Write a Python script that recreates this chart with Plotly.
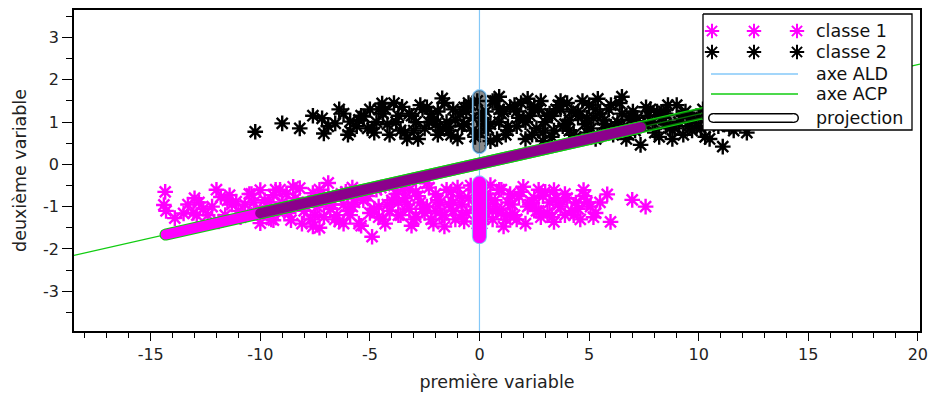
import numpy as np
import plotly.graph_objects as go

# ---------------- data ----------------
class1_x = [-14.34, -14.4, -14.3, -13.9, -13.5, -13.05, -13.0, -12.6, -12.2, -11.8, -11.4, -11.1, -11.6, -10.7,
            -10.0, -10.0, -9.7, -9.4, -9.4, -9.0, -8.6, -8.5, -8.2, -8.0, -7.6, -7.6, -7.5, -7.3, -7.0, -6.9,
            -6.6, -6.3, -6.0, -5.8, -5.5, -5.3, -5.0, -4.9, -4.7, -4.4, -4.2, -3.9, -3.6, -3.4, -3.1, -2.9,
            -2.6, -2.4, -2.2, -1.9, -1.6, -1.5, -1.2, -0.9, -0.7, -0.4, -0.2, 0.2, 0.5, 0.7, 1.0, 1.1, 1.4,
            1.7, 2.0, 2.2, 2.5, 2.8, 3.0, 3.4, 3.4, 3.7, 4.0, 4.3, 4.75, 4.9, 5.07, 5.3, 5.83, 5.98, 6.97,
            7.58, -9.2, -8.8, -7.8, -6.8, -6.2, -5.6, -4.6, -3.8, -3.2, -2.7, -2.0, -1.4, -1.0, 0.3, 0.8,
            1.5, 2.6, 3.2, 4.5, -10.3, -11.0, -12.8,
            -12.4, -12.0, -11.9, -11.3, -10.9, -10.5, -10.2, -9.8, -9.5, -9.1, -8.9, -8.4, -8.1, -7.9, -7.3,
            -7.1, -6.7, -6.4, -6.1, -5.9, -5.7, -5.4, -5.2, -4.8, -4.5, -4.3, -4.0, -3.7, -3.5, -3.3, -3.0,
            -2.8, -2.5, -2.3, -2.1, -1.8, -1.7, -1.3, -1.1, -0.8, -0.6, -0.3, 0.1, 0.4, 0.6, 0.9, 1.2, 1.3,
            1.6, 1.9, 2.1, 2.4, 2.7, 2.9, 3.3, 3.6, 3.9, 4.2, 4.6, 5.5, -13.3, -12.9,
            -11.5, -10.8, -10.4, -9.9, -9.6, -9.3, -8.7, -8.3, -7.7, -7.4, -6.9, -6.5, -6.2, -5.8, -5.1,
            -4.6, -4.1, -3.7, -3.2, -2.9, -2.4, -2.0, -1.6, -1.2, -0.8, -0.5, -0.1, 0.3, 0.6, 1.0, 1.4, 1.8,
            2.3, 2.7, 3.1, 3.5, 3.9, 4.4, 4.8, 5.2]
class1_y = [-0.65, -0.96, -1.1, -1.27, -1.16, -1.15, -0.8, -1.05, -1.0, -0.77, -0.73, -0.88, -1.2, -0.95,
            -0.61, -1.39, -1.0, -0.73, -1.32, -0.9, -1.32, -0.53, -0.56, -1.1, -0.68, -1.47, -1.2, -1.5, -0.9,
            -0.44, -1.3, -0.7, -1.1, -0.55, -1.4, -0.85, -1.15, -1.71, -0.6, -1.3, -0.95, -0.5, -1.2, -0.8,
            -1.45, -0.65, -1.05, -0.45, -1.3, -0.85, -1.47, -0.6, -1.1, -0.75, -1.35, -0.5, -1.0, -1.25,
            -0.49, -0.85, -1.15, -1.47, -0.7, -1.3, -0.53, -1.0, -0.8, -1.25, -0.65, -0.61, -1.36, -1.0,
            -0.8, -1.2, -0.61, -0.9, -1.0, -1.15, -0.71, -1.36, -0.84, -1.0, -1.1, -0.7, -0.9, -1.05, -0.95,
            -0.75, -1.0, -0.7, -1.05, -0.9, -1.1, -0.95, -0.55, -0.7, -1.05, -0.95, -1.1, -0.9, -1.05, -0.9,
            -1.1, -0.9,
            -1.2, -0.6, -1.35, -0.95, -1.25, -0.7, -1.15, -0.85, -1.3, -0.6, -1.1, -0.8, -1.4, -1.0, -0.6,
            -1.25, -0.95, -1.35, -0.65, -1.2, -0.9, -1.45, -0.7, -1.05, -0.55, -1.4, -0.85, -1.2, -0.6, -0.95,
            -1.3, -0.75, -1.15, -0.55, -1.4, -0.9, -1.2, -0.65, -1.3, -0.95, -1.15, -0.6, -1.4, -0.8, -1.1,
            -0.6, -1.3, -0.9, -1.2, -0.65, -1.4, -0.9, -1.1, -0.75, -1.25, -0.95, -0.7, -1.1, -1.3, -0.9,
            -0.95, -1.2,
            -0.85, -1.2, -0.7, -1.15, -0.9, -0.6, -1.15, -0.9, -1.3, -1.0, -0.75, -1.2, -1.4, -1.0, -0.75,
            -1.25, -1.1, -0.9, -0.6, -1.25, -1.0, -0.7, -1.2, -0.9, -1.2, -0.8, -1.4, -1.0, -1.3, -0.6, -1.2,
            -0.75, -0.95, -0.6, -1.15, -0.8, -1.2, -0.9, -0.75, -1.25]

class2_x = [-10.23, -9.0, -7.18, -7.1, -6.58, -5.9, -5.9, -5.28, -4.9, -4.44, -4.4, -4.1, -3.8, -3.53, -3.3,
            -3.1, -2.7, -2.5, -2.2, -1.9, -1.7, -1.5, -1.2, -1.0, -0.8, -0.5, -0.3, 0.0, 0.3, 0.5, 0.7, 0.9,
            1.2, 1.4, 1.7, 1.9, 2.1, 2.3, 2.6, 2.8, 3.0, 3.3, 3.5, 3.8, 4.0, 4.3, 4.5, 4.8, 5.0, 5.3, 5.5,
            5.8, 6.0, 6.3, 6.5, 6.8, 7.0, 7.35, 7.5, 7.8, 8.0, 8.3, 8.6, 8.8, 9.1, 9.4, 9.7, 10.0, 10.3,
            10.6, 11.1, 11.4, 11.8, 12.2, 12.5, -6.2, -5.6, -5.0, -4.7, -3.6, -2.9, -2.0, -1.4, -0.6, 0.2,
            1.0, 1.8, 2.5, 3.2, 4.1, 4.9, 5.7, 6.6, 7.2, 8.5, 9.5, -0.1, 2.2, 3.7, 5.4, 0.9,
            -6.9, -6.4, -6.0, -5.4, -5.1, -4.6, -4.2, -3.9, -3.4, -3.2, -2.8, -2.4, -2.1, -1.8, -1.6, -1.3,
            -0.9, -0.7, -0.4, -0.2, 0.1, 0.4, 0.6, 0.8, 1.1, 1.3, 1.6, 2.0, 2.4, 2.7, 2.9, 3.1, 3.4, 3.6,
            3.9, 4.2, 4.4, 4.7, 5.1, 5.2, 5.6, 5.9, 6.2, 6.4, 6.7, 6.9, 7.1, 7.6, 7.9, 8.2, 8.4, 8.7, 9.0,
            9.3, 9.6, 9.9, 10.2, 10.5, 10.8, 11.6, -8.2, -7.6,
            -5.5, -4.8, -4.3, -3.7, -3.0, -2.6, -2.3, -1.9, -1.5, -1.1, -0.7, -0.3, 0.1, 0.5, 0.9, 1.3, 1.7,
            2.1, 2.5, 2.9, 3.3, 3.7, 4.1, 4.5, 4.9, 5.3, 5.7, 6.1, 6.5, 6.9, 7.3, 7.7, 8.1, 8.5, 8.9, 9.3,
            9.7, 10.1, 10.5, 10.9]
class2_y = [0.77, 0.97, 1.09, 0.73, 0.97, 1.01, 0.78, 1.13, 0.85, 1.44, 1.2, 0.7, 1.0, 1.36, 0.61, 1.15,
            1.4, 0.85, 1.2, 0.7, 1.56, 1.0, 1.3, 0.61, 0.9, 1.45, 1.1, 0.75, 1.25, 0.55, 1.5, 1.0, 0.7,
            1.35, 0.9, 1.45, 0.6, 1.15, 0.85, 1.5, 1.0, 0.65, 1.3, 0.9, 1.45, 0.7, 1.15, 0.95, 1.4, 0.6,
            1.2, 0.85, 1.4, 1.0, 1.6, 0.7, 1.25, 0.46, 0.95, 1.3, 0.75, 1.1, 1.4, 0.6, 1.0, 1.25, 0.8, 1.1,
            0.65, 1.3, 0.42, 0.9, 1.15, 0.75, 1.0, 1.2, 0.9, 1.3, 1.0, 0.8, 1.0, 0.95, 0.8, 1.25, 0.95,
            1.2, 1.1, 1.3, 1.2, 1.05, 0.75, 1.05, 0.9, 1.1, 0.95, 0.9, 1.5, 1.55, 1.5, 1.55, 1.6,
            0.9, 1.3, 0.7, 1.15, 0.85, 1.3, 0.95, 1.45, 0.75, 1.2, 0.6, 1.35, 1.05, 0.8, 1.45, 0.7,
            1.2, 0.95, 1.4, 0.65, 1.1, 0.85, 1.5, 0.6, 1.25, 0.9, 1.4, 1.05, 0.7, 1.3, 0.55, 1.15,
            0.8, 1.4, 0.95, 1.25, 0.65, 1.5, 0.85, 1.1, 0.7, 1.3, 0.9, 1.45, 0.6, 1.15, 0.8, 1.35,
            1.0, 0.65, 1.25, 0.85, 1.4, 0.7, 1.1, 0.9, 1.3, 0.6, 1.15, 0.8, 0.85, 1.15,
            1.05, 0.75, 1.3, 1.15, 0.8, 1.3, 1.0, 1.25, 0.85, 1.05, 1.35, 0.8, 1.2, 0.95, 1.3, 0.8, 1.25,
            1.0, 1.35, 0.75, 1.15, 1.3, 0.8, 1.25, 1.1, 1.3, 0.95, 0.7, 1.2, 1.05, 0.95, 1.15, 1.25, 1.2,
            0.85, 1.15, 1.1, 0.85, 1.0, 0.9]

# discriminant (ALD) axis: vertical line x = 0 ; principal (ACP) axis through two points
ald_x = [0.0, 0.0]
ald_y = [-3.94, 3.65]
acp_x = [-18.5, 20.1]
acp_y = [-2.15, 2.37]

x_range = [-18.5, 20.1]
y_range = [-3.94, 3.65]
x_ticks = [-15, -10, -5, 0, 5, 10, 15, 20]
x_tick_labels = ["-15", "-10", "-5", "0", "5", "10", "15", "20"]
y_ticks = [-3, -2, -1, 0, 1, 2, 3]
y_tick_labels = ["-3", "-2", "-1", "0", "1", "2", "3"]
legend_labels = ["classe 1", "classe 2", "axe ALD", "axe ACP", "projection"]
x_title = "première variable"
y_title = "deuxième variable"

MAGENTA = "#ff00ff"
BLACK = "#000000"
LBLUE = "#84c8f8"
GREEN = "#10cc10"
FONT = "DejaVu Sans"

# plot area in pixels
L, R, T, B = 74, 920, 10, 331
SX = (R - L) / (x_range[1] - x_range[0])
SY = (B - T) / (y_range[1] - y_range[0])


def project(px, py, lx, ly):
    p0 = np.array([lx[0], ly[0]], float)
    d = np.array([lx[1] - lx[0], ly[1] - ly[0]], float)
    d /= np.linalg.norm(d)
    pts = np.column_stack([px, py]).astype(float) - p0
    t = np.sort(pts @ d)
    proj = p0 + np.outer(t, d)
    return proj[0], proj[-1]


def stadium(p_start, p_end, r):
    """rounded band (in data coords) around segment, with pixel radius r"""
    a = np.array([p_start[0] * SX, p_start[1] * SY])
    b = np.array([p_end[0] * SX, p_end[1] * SY])
    u = (b - a) / np.linalg.norm(b - a)
    ang = np.arctan2(u[1], u[0])
    th1 = np.linspace(ang - np.pi / 2, ang + np.pi / 2, 20)
    th0 = np.linspace(ang + np.pi / 2, ang + 3 * np.pi / 2, 20)
    pts = [b + r * np.array([np.cos(t), np.sin(t)]) for t in th1]
    pts += [a + r * np.array([np.cos(t), np.sin(t)]) for t in th0]
    pts.append(pts[0])
    pts = np.array(pts)
    return pts[:, 0] / SX, pts[:, 1] / SY


fig = go.Figure()

star = dict(symbol="asterisk-open", size=13)
fig.add_trace(go.Scatter(x=class1_x, y=class1_y, mode="markers",
                         marker=dict(**star, color=MAGENTA, line=dict(color=MAGENTA, width=2.4))))
fig.add_trace(go.Scatter(x=class2_x, y=class2_y, mode="markers",
                         marker=dict(**star, color=BLACK, line=dict(color=BLACK, width=2.4))))
fig.add_trace(go.Scatter(x=ald_x, y=ald_y, mode="lines", line=dict(color=LBLUE, width=1.2)))
fig.add_trace(go.Scatter(x=acp_x, y=acp_y, mode="lines", line=dict(color=GREEN, width=1.3)))

# projection bands
bands = []
for axx, axy, outline, r in [(ald_x, ald_y, LBLUE, 6.5), (acp_x, acp_y, GREEN, 5.0)]:
    s1, e1 = project(class1_x, class1_y, axx, axy)
    s2, e2 = project(class2_x, class2_y, axx, axy)
    bands.append((stadium(s1, e1, r), stadium(s2, e2, r), outline))

for (b1, b2, outline) in bands:
    fig.add_trace(go.Scatter(x=b1[0], y=b1[1], mode="lines", line=dict(color=outline, width=2.2)))
    fig.add_trace(go.Scatter(x=b2[0], y=b2[1], mode="lines", line=dict(color=outline, width=2.2)))
    fig.add_trace(go.Scatter(x=b1[0], y=b1[1], mode="none", fill="toself", fillcolor=MAGENTA))
    fig.add_trace(go.Scatter(x=b2[0], y=b2[1], mode="none", fill="toself", fillcolor="rgba(0,0,0,0.45)"))

# ---------------- legend (overlay axes in pixel units of the plot area) ----------------
bx0, bx1, by0, by1 = 703, 912, 14, 130
fig.add_trace(go.Scatter(x=[bx0, bx1, bx1, bx0, bx0], y=[by0, by0, by1, by1, by0], mode="lines",
                         fill="toself", fillcolor="white", line=dict(color="black", width=1.3),
                         xaxis="x2", yaxis="y2"))
row_y = [31, 52, 74, 94, 118]
mk_x = [712, 754, 797]
fig.add_trace(go.Scatter(x=mk_x, y=[row_y[0]] * 3, mode="markers", xaxis="x2", yaxis="y2",
                         marker=dict(symbol="asterisk-open", size=12, color=MAGENTA,
                                     line=dict(color=MAGENTA, width=2))))
fig.add_trace(go.Scatter(x=mk_x, y=[row_y[1]] * 3, mode="markers", xaxis="x2", yaxis="y2",
                         marker=dict(symbol="asterisk-open", size=12, color=BLACK,
                                     line=dict(color=BLACK, width=2))))
fig.add_trace(go.Scatter(x=[711, 798], y=[row_y[2]] * 2, mode="lines", xaxis="x2", yaxis="y2",
                         line=dict(color=LBLUE, width=1.3)))
fig.add_trace(go.Scatter(x=[711, 798], y=[row_y[3]] * 2, mode="lines", xaxis="x2", yaxis="y2",
                         line=dict(color=GREEN, width=1.3)))
fig.add_trace(go.Scatter(x=[713, 794], y=[row_y[4]] * 2, mode="lines+markers", xaxis="x2", yaxis="y2",
                         line=dict(color="black", width=10), marker=dict(size=10, color="black")))
fig.add_trace(go.Scatter(x=[713, 794], y=[row_y[4]] * 2, mode="lines+markers", xaxis="x2", yaxis="y2",
                         line=dict(color="white", width=7), marker=dict(size=7, color="white")))

annotations = []
for lab, yy in zip(legend_labels, row_y):
    annotations.append(dict(x=814, y=yy, xref="x2", yref="y2", text=lab, showarrow=False,
                            xanchor="left", yanchor="middle", font=dict(family=FONT, size=17.5, color="#111")))

axis_common = dict(showgrid=False, zeroline=False, showline=True, linecolor="black", linewidth=1.5,
                   mirror=True, ticks="outside", tickcolor="black", tickwidth=1.3, automargin=False,
                   tickfont=dict(family=FONT, size=16, color="#222"))

fig.update_layout(
    width=935, height=397,
    margin=dict(l=L, r=935 - R, t=T, b=397 - B),
    plot_bgcolor="white", paper_bgcolor="white",
    showlegend=False,
    xaxis=dict(range=x_range, tickvals=x_ticks, ticktext=x_tick_labels, ticklen=8,
               minor=dict(dtick=1, ticks="outside", ticklen=5, tickcolor="black", tickwidth=1.2),
               title=dict(text=x_title, font=dict(family=FONT, size=17.5, color="#222"), standoff=13),
               **axis_common),
    yaxis=dict(range=y_range, tickvals=y_ticks, ticktext=y_tick_labels, ticklen=10,
               minor=dict(dtick=0.5, ticks="outside", ticklen=6, tickcolor="black", tickwidth=1.2),
               title=dict(text=y_title, font=dict(family=FONT, size=17.5, color="#222"), standoff=12),
               **axis_common),
    xaxis2=dict(overlaying="x", anchor="y2", range=[L, R], visible=False, fixedrange=True),
    yaxis2=dict(overlaying="y", anchor="x2", range=[B, T], visible=False, fixedrange=True),
    annotations=annotations,
)

fig.write_html("out.html", config={"displayModeBar": False},
               post_script="document.body.style.margin='0';document.body.style.overflow='hidden';")
